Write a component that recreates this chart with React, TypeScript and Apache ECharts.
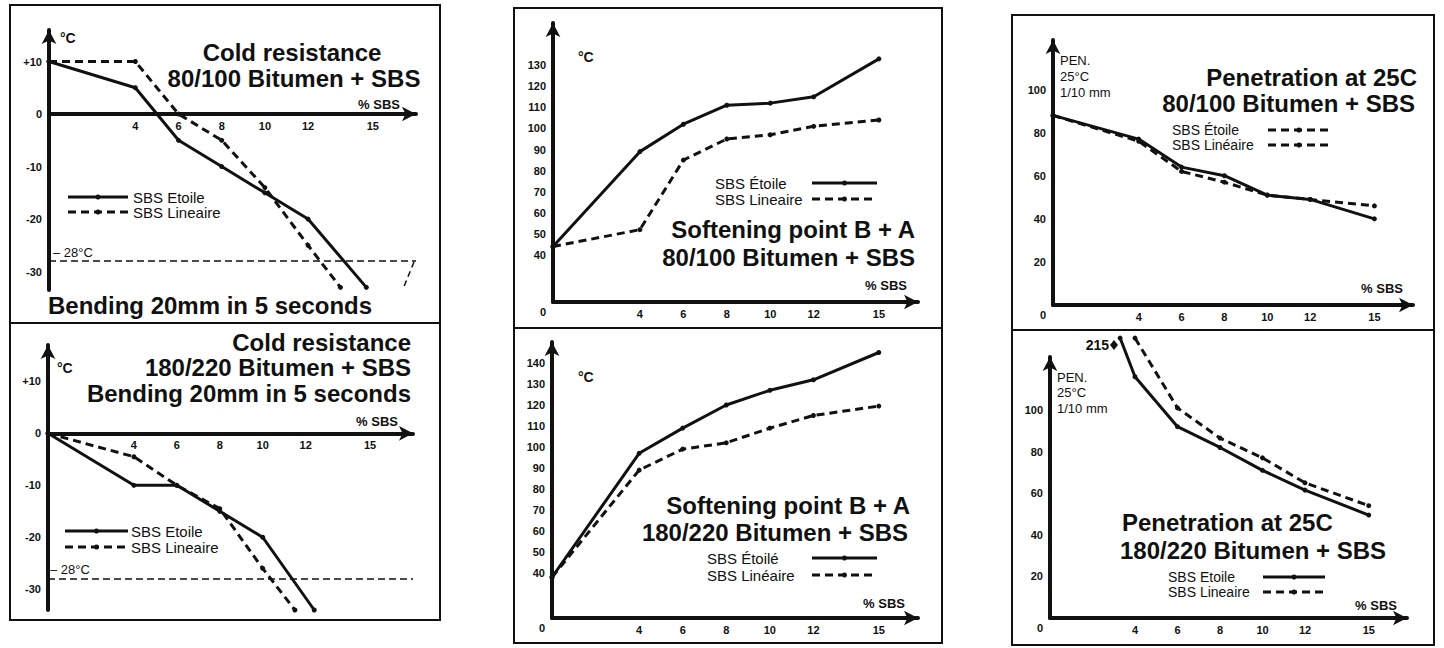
import React, { useEffect, useRef } from 'react';
import * as echarts from 'echarts';

const FONT = '"Liberation Sans", Arial, Helvetica, sans-serif';
const INK = '#111';

// x ticks (% SBS)
const xTicks = [4, 6, 8, 10, 12, 15];

// Panel 1: Cold resistance 80/100
const cold80Etoile = [[0, 10], [4, 5], [6, -5], [8, -10], [10, -15], [12, -20], [14.7, -33]];
const cold80Lineaire = [[0, 10], [4, 10], [6, 0], [8, -5], [10, -14], [12, -25], [13.5, -33]];
// Panel 2: Cold resistance 180/220
const cold180Etoile = [[0, 0], [4, -10], [6, -10], [8, -15], [10, -20], [12.4, -34]];
const cold180Lineaire = [[0, 0], [4, -4.5], [6, -10], [8, -14.5], [10, -26], [11.5, -34]];
const coldTicks = [10, 0, -10, -20, -30];
const coldLimit = -28;

// Panel 3: Softening point 80/100
const soft80Etoile = [[0, 44], [4, 89], [6, 102], [8, 111], [10, 112], [12, 115], [15, 133]];
const soft80Lineaire = [[0, 44], [4, 52], [6, 85], [8, 95], [10, 97], [12, 101], [15, 104]];
const soft80Ticks = [17.7, 40, 50, 60, 70, 80, 90, 100, 110, 120, 130];
// Panel 4: Softening point 180/220
const soft180Etoile = [[0, 38], [4, 97], [6, 109], [8, 120], [10, 127], [12, 132], [15, 145]];
const soft180Lineaire = [[0, 38], [4, 89], [6, 99], [8, 102], [10, 109], [12, 115], [15, 119.5]];
const soft180Ticks = [18.6, 40, 50, 60, 70, 80, 90, 100, 110, 120, 130, 140];

// Panel 5: Penetration 80/100
const pen80Etoile = [[0, 88], [4, 77], [6, 64], [8, 60], [10, 51], [12, 49], [15, 40]];
const pen80Lineaire = [[0, 88], [4, 76], [6, 62], [8, 57], [10, 51], [12, 49], [15, 46]];
// Panel 6: Penetration 180/220 (first points run off the broken top of the axis, "215")
const pen180Etoile = [[3.3, 134.6], [4, 116], [6, 92], [8, 82], [10, 71], [12, 61.5], [15, 49.5]];
const pen180Lineaire = [[4, 134.6], [6, 101], [8, 86.5], [10, 77], [12, 65], [15, 54]];
const penTicks = [0, 20, 40, 60, 80, 100];

const grids = [
  { left: 49, top: 30, width: 367, height: 260 },
  { left: 48, top: 345, width: 365, height: 265 },
  { left: 553, top: 23, width: 365, height: 279 },
  { left: 552, top: 342, width: 366, height: 276 },
  { left: 1053, top: 40, width: 360, height: 265 },
  { left: 1050, top: 357, width: 357, height: 261 },
];
const xMax = [17, 17, 16.8, 16.8, 16.8, 16.8];
const yRange = [
  [-33.5, 16],
  [-34, 17],
  [17.7, 150],
  [18.6, 150],
  [0, 123],
  [0, 125.5],
];
const yTickSets = [coldTicks, coldTicks, soft80Ticks, soft180Ticks, penTicks, penTicks];

const labelBase = { fontSize: 11, fontWeight: 'bold' as const, color: INK, fontFamily: FONT };

const axisLineStyle = {
  show: true,
  onZero: false,
  symbol: ['none', 'arrow'],
  symbolSize: [11, 14],
  lineStyle: { color: INK, width: 4 },
};

function T(x: number, y: number, text: string, size: number, align = 'left', weight = 'bold') {
  return {
    type: 'text',
    x,
    y,
    style: {
      text,
      fill: INK,
      fontSize: size,
      fontWeight: weight,
      fontFamily: FONT,
      align,
      verticalAlign: 'middle',
    },
  };
}

function legendLine(x1: number, x2: number, y: number, dashed: boolean) {
  return [
    {
      type: 'line',
      shape: { x1, y1: y, x2, y2: y },
      style: { stroke: INK, lineWidth: 3, lineDash: dashed ? [8, 5] : null },
    },
    { type: 'circle', shape: { cx: (x1 + x2) / 2, cy: y, r: 2.5 }, style: { fill: INK } },
  ];
}

function box(x: number, y: number, w: number, h: number, divY: number) {
  return [
    { type: 'rect', shape: { x, y, width: w, height: h }, style: { fill: 'none', stroke: INK, lineWidth: 2 } },
    { type: 'line', shape: { x1: x, y1: divY, x2: x + w, y2: divY }, style: { stroke: INK, lineWidth: 2 } },
  ];
}

function mkSeries(i: number, data: number[][], dashed: boolean, name: string, extra: any = {}) {
  return {
    type: 'line',
    name,
    xAxisIndex: i,
    yAxisIndex: i,
    data,
    clip: false,
    symbol: 'circle',
    symbolSize: 5,
    itemStyle: { color: INK },
    lineStyle: { color: INK, width: 3, type: dashed ? [8, 5] : 'solid' },
    z: 3,
    ...extra,
  };
}

const limitLine = {
  silent: true,
  symbol: 'none',
  label: { show: false },
  lineStyle: { color: INK, width: 1.5, type: [7, 4] },
  data: [{ yAxis: coldLimit }],
};

export default function App() {
  const ref = useRef<HTMLDivElement>(null);

  useEffect(() => {
    document.body.style.margin = '0';
    const chart = echarts.init(ref.current as HTMLDivElement, null, { renderer: 'svg' });

    const xAxis = grids.map((g, i) => {
      const [lo, hi] = yRange[i];
      // cold-resistance panels: x axis crosses the y axis at 0 °C
      const zeroShift = lo < 0 ? -((0 - lo) / (hi - lo)) * g.height : 0;
      return {
        gridIndex: i,
        type: 'value',
        position: 'bottom',
        offset: zeroShift,
        min: 0,
        max: xMax[i],
        axisLine: axisLineStyle,
        axisTick: { show: false },
        splitLine: { show: false },
        axisLabel: { ...labelBase, customValues: xTicks, margin: 6 },
      };
    });

    const yAxis = grids.map((_, i) => {
      const lo = yRange[i][0];
      const fmt =
        i < 2
          ? (v: number) => (v > 0 ? '+' + v : String(v))
          : (v: number) => (v === lo ? '{z|0}' : String(v));
      return {
        gridIndex: i,
        type: 'value',
        min: lo,
        max: yRange[i][1],
        axisLine: axisLineStyle,
        axisTick: { show: false },
        splitLine: { show: false },
        axisLabel: {
          ...labelBase,
          customValues: yTickSets[i],
          margin: 7,
          formatter: fmt,
          rich: { z: { ...labelBase, padding: [20, 0, 0, 0] } },
        },
      };
    });

    const series = [
      mkSeries(0, cold80Etoile, false, 'SBS Etoile', { markLine: limitLine }),
      mkSeries(0, cold80Lineaire, true, 'SBS Lineaire'),
      mkSeries(1, cold180Etoile, false, 'SBS Etoile', { markLine: limitLine }),
      mkSeries(1, cold180Lineaire, true, 'SBS Lineaire'),
      mkSeries(2, soft80Etoile, false, 'SBS Étoile'),
      mkSeries(2, soft80Lineaire, true, 'SBS Lineaire'),
      mkSeries(3, soft180Etoile, false, 'SBS Étoilé'),
      mkSeries(3, soft180Lineaire, true, 'SBS Linéaire'),
      mkSeries(4, pen80Etoile, false, 'SBS Étoile'),
      mkSeries(4, pen80Lineaire, true, 'SBS Linéaire'),
      mkSeries(5, pen180Etoile, false, 'SBS Etoile'),
      mkSeries(5, pen180Lineaire, true, 'SBS Lineaire'),
    ];

    const graphic: any[] = [
      ...box(10, 5, 430, 615, 323),
      ...box(514, 8, 428, 635, 328),
      ...box(1012, 15, 422, 630, 330),

      // Panel 1
      T(60, 38, '°C', 14),
      T(292, 52, 'Cold resistance', 24, 'center'),
      T(294, 78, '80/100 Bitumen + SBS', 24, 'center'),
      T(400, 104, '% SBS', 13, 'right'),
      ...legendLine(68, 128, 197, false),
      T(133, 197, 'SBS Etoile', 15, 'left', 'normal'),
      ...legendLine(68, 128, 212, true),
      T(133, 212, 'SBS Lineaire', 15, 'left', 'normal'),
      T(53, 252, '– 28°C', 13, 'left', 'normal'),
      {
        type: 'line',
        shape: { x1: 414, y1: 262, x2: 403, y2: 289 },
        style: { stroke: INK, lineWidth: 1.5, lineDash: [6, 4] },
      },
      T(48, 305, 'Bending 20mm in 5 seconds', 24, 'left'),

      // Panel 2
      T(57, 368, '°C', 14),
      T(411, 342, 'Cold resistance', 24, 'right'),
      T(411, 367, '180/220 Bitumen + SBS', 24, 'right'),
      T(411, 393, 'Bending 20mm in 5 seconds', 24, 'right'),
      T(398, 421, '% SBS', 13, 'right'),
      ...legendLine(65, 128, 531, false),
      T(131, 531, 'SBS Etoile', 15, 'left', 'normal'),
      ...legendLine(65, 128, 547, true),
      T(131, 547, 'SBS Lineaire', 15, 'left', 'normal'),
      T(50, 569, '– 28°C', 13, 'left', 'normal'),

      // Panel 3
      T(578, 57, '°C', 14),
      T(715, 183, 'SBS Étoile', 15, 'left', 'normal'),
      ...legendLine(812, 877, 183, false),
      T(715, 199, 'SBS Lineaire', 15, 'left', 'normal'),
      ...legendLine(812, 877, 199, true),
      T(915, 229, 'Softening point B + A', 24, 'right'),
      T(915, 257, '80/100 Bitumen + SBS', 24, 'right'),
      T(907, 285, '% SBS', 13, 'right'),

      // Panel 4
      T(578, 377, '°C', 14),
      T(910, 505, 'Softening point B + A', 24, 'right'),
      T(908, 532, '180/220 Bitumen + SBS', 24, 'right'),
      T(707, 558, 'SBS Étoilé', 15, 'left', 'normal'),
      ...legendLine(812, 877, 558, false),
      T(707, 575, 'SBS Linéaire', 15, 'left', 'normal'),
      ...legendLine(812, 877, 575, true),
      T(905, 603, '% SBS', 13, 'right'),

      // Panel 5
      T(1060, 60, 'PEN.', 13, 'left', 'normal'),
      T(1060, 76, '25°C', 13, 'left', 'normal'),
      T(1060, 92, '1/10 mm', 13, 'left', 'normal'),
      T(1417, 77, 'Penetration at 25C', 24, 'right'),
      T(1415, 103, '80/100 Bitumen + SBS', 24, 'right'),
      T(1172, 130, 'SBS Étoile', 14, 'left', 'normal'),
      ...legendLine(1268, 1330, 130, true),
      T(1172, 145, 'SBS Linéaire', 14, 'left', 'normal'),
      ...legendLine(1268, 1330, 145, true),
      T(1403, 288, '% SBS', 13, 'right'),

      // Panel 6
      T(1057, 377, 'PEN.', 13, 'left', 'normal'),
      T(1057, 392, '25°C', 13, 'left', 'normal'),
      T(1057, 408, '1/10 mm', 13, 'left', 'normal'),
      T(1109, 345, '215', 14, 'right'),
      {
        type: 'polygon',
        shape: { points: [[1114, 340], [1118, 345], [1114, 350], [1110, 345]] },
        style: { fill: INK },
      },
      T(1122, 522, 'Penetration at 25C', 24, 'left'),
      T(1120, 550, '180/220 Bitumen + SBS', 24, 'left'),
      T(1168, 577, 'SBS Etoile', 14, 'left', 'normal'),
      ...legendLine(1263, 1325, 577, false),
      T(1168, 592, 'SBS Lineaire', 14, 'left', 'normal'),
      ...legendLine(1263, 1325, 592, true),
      T(1397, 605, '% SBS', 13, 'right'),
    ];

    chart.setOption({
      animation: false,
      backgroundColor: '#fff',
      grid: grids.map((g) => ({ ...g, containLabel: false })),
      xAxis,
      yAxis,
      series,
      graphic,
    });

    return () => chart.dispose();
  }, []);

  return (
    <div
      ref={ref}
      style={{ position: 'fixed', left: 0, top: 0, width: 1444, height: 648, background: '#fff' }}
    />
  );
}
